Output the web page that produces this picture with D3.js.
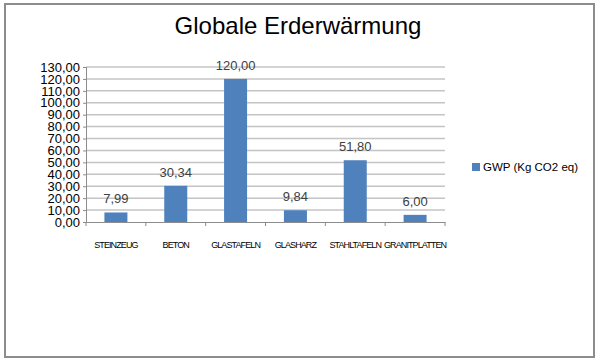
<!DOCTYPE html>
<html lang="de">
<head>
<meta charset="utf-8">
<title>Globale Erderwärmung</title>
<script src="https://d3js.org/d3.v7.min.js"></script>
<style>
  body { margin: 0; background: #fff; }
  text { font-family: 'Liberation Sans', Arial, sans-serif; }
</style>
</head>
<body>
<script>
// data
var categories = ["STEINZEUG", "BETON", "GLASTAFELN", "GLASHARZ", "STAHLTAFELN", "GRANITPLATTEN"];
var gwp = [7.99, 30.34, 120.00, 9.84, 51.80, 6.00];
var seriesName = "GWP (Kg CO2 eq)";
var yTicks = [0, 10, 20, 30, 40, 50, 60, 70, 80, 90, 100, 110, 120, 130];

var w = 600, h = 363;
var plotLeft = 86, plotRight = 445, plotTop = 67, plotBottom = 222;

var svg = d3.select("body").append("svg")
  .attr("width", w)
  .attr("height", h);

// outer frame
svg.append("rect")
  .attr("x", 5).attr("y", 4)
  .attr("width", 589).attr("height", 353)
  .attr("fill", "#fff")
  .attr("stroke", "#8c8c8c")
  .attr("stroke-width", 2);

// title
svg.append("text")
  .attr("x", 298).attr("y", 34)
  .attr("text-anchor", "middle")
  .attr("font-size", "24px")
  .attr("fill", "#000")
  .text("Globale Erderwärmung");

var x = d3.scaleBand()
  .domain(categories)
  .range([plotLeft, plotRight]);

var y = d3.scaleLinear()
  .domain([0, 130])
  .range([plotBottom, plotTop]);

// gridlines
svg.append("g")
  .selectAll("line")
  .data(yTicks.slice(1))
  .enter().append("line")
  .attr("x1", plotLeft).attr("x2", plotRight)
  .attr("y1", function(d) { return y(d); })
  .attr("y2", function(d) { return y(d); })
  .attr("stroke", "#c4c4c4")
  .attr("stroke-width", 1.5);

// y axis
var yAxis = d3.axisLeft(y)
  .tickValues(yTicks)
  .tickSize(3)
  .tickPadding(3)
  .tickFormat(function(d) { return d3.format(".2f")(d).replace(".", ","); });

var gy = svg.append("g")
  .attr("transform", "translate(" + plotLeft + ",0)")
  .call(yAxis);
gy.select(".domain").attr("stroke", "#8c8c8c");
gy.selectAll(".tick line").attr("stroke", "#8c8c8c");
gy.selectAll(".tick text")
  .attr("font-size", "13px")
  .attr("font-family", "'Liberation Sans', Arial, sans-serif")
  .attr("fill", "#000");

// x axis
var xAxis = d3.axisBottom(x).tickSize(0).tickFormat("");
var gx = svg.append("g")
  .attr("transform", "translate(0," + plotBottom + ")")
  .call(xAxis);
gx.select(".domain").attr("stroke", "#8c8c8c");

// category boundary ticks
svg.append("g")
  .selectAll("line")
  .data(categories.concat(["_end"]))
  .enter().append("line")
  .attr("x1", function(d, i) { return i < categories.length ? x(d) : x.range()[1]; })
  .attr("x2", function(d, i) { return i < categories.length ? x(d) : x.range()[1]; })
  .attr("y1", plotBottom).attr("y2", plotBottom + 4)
  .attr("stroke", "#8c8c8c");

// category labels
svg.append("g")
  .selectAll("text")
  .data(categories)
  .enter().append("text")
  .attr("x", function(d) { return x(d) + x.bandwidth() / 2; })
  .attr("y", 248)
  .attr("text-anchor", "middle")
  .attr("font-size", "9px")
  .attr("letter-spacing", "-0.9px")
  .attr("fill", "#000")
  .text(function(d) { return d; });

// bars
var barW = 23;
svg.append("g")
  .selectAll("rect")
  .data(gwp)
  .enter().append("rect")
  .attr("x", function(d, i) { return x(categories[i]) + x.bandwidth() / 2 - barW / 2; })
  .attr("y", function(d) { return y(d); })
  .attr("width", barW)
  .attr("height", function(d) { return plotBottom - y(d); })
  .attr("fill", "#4f81bd");

// value labels
svg.append("g")
  .selectAll("text")
  .data(gwp)
  .enter().append("text")
  .attr("x", function(d, i) { return x(categories[i]) + x.bandwidth() / 2; })
  .attr("y", function(d) { return y(d) - 9; })
  .attr("text-anchor", "middle")
  .attr("font-family", "'Open Sans', sans-serif")
  .attr("font-size", "13px")
  .attr("fill", "#404040")
  .text(function(d) { return d3.format(".2f")(d).replace(".", ","); });

// legend
var lg = svg.append("g").attr("transform", "translate(472,163)");
lg.append("rect")
  .attr("width", 8).attr("height", 8)
  .attr("fill", "#4f81bd");
lg.append("text")
  .attr("x", 11).attr("y", 8)
  .attr("font-family", "'Open Sans', sans-serif")
  .attr("font-size", "11.5px")
  .attr("fill", "#000")
  .text(seriesName);
</script>
</body>
</html>
